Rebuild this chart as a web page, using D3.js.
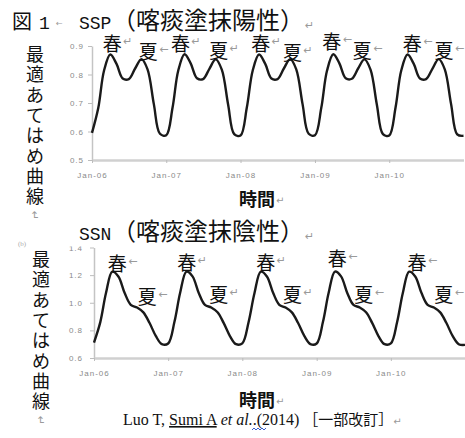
<!DOCTYPE html>
<html>
<head>
<meta charset="utf-8">
<script src="https://cdn.jsdelivr.net/npm/d3@7/dist/d3.min.js"></script>
<style>
  body { margin: 0; background: #fff; }
  svg { display: block; }
  .tick text { font-family: 'Liberation Sans', Arial, sans-serif; font-size: 8px; letter-spacing: 1px; fill: #8a8a8a; }
  .tick line { stroke: #bdbdbd; }
  .cjk { font-family: 'Noto Sans CJK JP', sans-serif; fill: #111; }
  .ret { font-family: 'DejaVu Sans', sans-serif; fill: #9a9a9a; }
</style>
</head>
<body>
<svg width="465" height="438"></svg>
<script>
// monthly fitted values, Jan-06 .. Jan-11
const yearTicks = ['2006-01-01', '2007-01-01', '2008-01-01', '2009-01-01', '2010-01-01'];

const sspFit = [
  0.595, 0.683, 0.813, 0.870, 0.838, 0.786, 0.784, 0.821, 0.854, 0.818, 0.696, 0.592,
  0.587, 0.684, 0.814, 0.871, 0.839, 0.787, 0.784, 0.820, 0.853, 0.817, 0.695, 0.591,
  0.586, 0.684, 0.814, 0.870, 0.838, 0.786, 0.784, 0.821, 0.854, 0.818, 0.696, 0.592,
  0.587, 0.683, 0.813, 0.871, 0.839, 0.787, 0.785, 0.821, 0.853, 0.817, 0.695, 0.591,
  0.586, 0.684, 0.814, 0.870, 0.838, 0.786, 0.784, 0.820, 0.854, 0.818, 0.696, 0.590,
  0.585
];

const ssnFit = [
  0.712, 0.860, 1.070, 1.225, 1.190, 1.070, 0.985, 0.965, 0.930, 0.855, 0.760, 0.700,
  0.705, 0.862, 1.072, 1.226, 1.191, 1.069, 0.984, 0.966, 0.931, 0.854, 0.759, 0.700,
  0.706, 0.861, 1.071, 1.225, 1.190, 1.070, 0.985, 0.965, 0.930, 0.855, 0.760, 0.701,
  0.705, 0.862, 1.072, 1.226, 1.191, 1.069, 0.984, 0.966, 0.931, 0.854, 0.759, 0.700,
  0.706, 0.861, 1.071, 1.225, 1.190, 1.070, 0.985, 0.965, 0.930, 0.855, 0.760, 0.700,
  0.695
];

const sspTicks = [0.5, 0.6, 0.7, 0.8, 0.9];
const ssnTicks = [0.6, 0.8, 1.0, 1.2, 1.4];

// season labels: [text, date, value, return mark]
const sspLabels = [
  ['春', '2006-04-10', 0.884, '↵'], ['夏', '2006-10-04', 0.853, '←'],
  ['春', '2007-03-12', 0.884, '↵'], ['夏', '2007-09-16', 0.858, '↵'],
  ['春', '2008-04-10', 0.884, '↵'], ['夏', '2008-09-12', 0.851, '↵'],
  ['春', '2009-03-24', 0.890, '←'], ['夏', '2009-08-21', 0.858, '←'],
  ['春', '2010-04-24', 0.884, '←'], ['夏', '2010-09-27', 0.858, '←']
];
const ssnLabels = [
  ['春', '2006-04-25', 1.230, '←'], ['夏', '2006-09-20', 0.990, '←'],
  ['春', '2007-04-03', 1.235, '↵'], ['夏', '2007-09-07', 1.005, '↵'],
  ['春', '2008-04-25', 1.235, '↵'], ['夏', '2008-09-04', 1.005, '↵'],
  ['春', '2009-04-12', 1.266, '←'], ['夏', '2009-08-21', 1.005, '←'],
  ['春', '2010-05-10', 1.235, '←'], ['夏', '2010-09-18', 1.005, '←']
];

const vLabel = '最適あてはめ曲線';

const svg = d3.select('svg');
const parse = d3.timeParse('%Y-%m-%d');
const months = d3.timeMonth.range(new Date(2006, 0, 1), new Date(2011, 0, 2));

function panel(values, ticks, labels, opt) {
  const x = d3.scaleTime()
    .domain([new Date(2006, 0, 1), new Date(2011, 0, 1)])
    .range(opt.xr);
  const y = d3.scaleLinear()
    .domain(d3.extent(ticks))
    .range(opt.yr);

  const g = svg.append('g');
  if (opt.clipTop) {
    svg.append('clipPath').attr('id', opt.id)
      .append('rect').attr('x', 0).attr('y', opt.clipTop).attr('width', 465).attr('height', 438 - opt.clipTop);
    g.attr('clip-path', `url(#${opt.id})`);
  }

  const ya = g.append('g')
    .attr('transform', `translate(${opt.xr[0]},0)`)
    .call(d3.axisLeft(y).tickValues(ticks).tickFormat(d3.format('.1f')).tickSize(4).tickSizeOuter(0).tickPadding(opt.yPad));
  ya.select('.domain').attr('stroke', '#c4c4c4').attr('stroke-width', 1.5);

  const xa = g.append('g')
    .attr('transform', `translate(0,${opt.yr[0]})`)
    .call(d3.axisBottom(x).tickValues(yearTicks.map(parse)).tickFormat(d3.timeFormat('%b-%y')).tickSize(3).tickSizeOuter(0).tickPadding(9));
  xa.select('.domain').attr('stroke', '#d0d0d0').attr('stroke-width', 2.5);

  const line = d3.line()
    .x((d, i) => x(months[i]))
    .y(d => y(d))
    .curve(d3.curveCatmullRom);

  g.append('path')
    .datum(values)
    .attr('fill', 'none')
    .attr('stroke', '#1a1a1a')
    .attr('stroke-width', 2.4)
    .attr('d', line);

  const lab = svg.append('g').selectAll('g')
    .data(labels)
    .join('g')
    .attr('transform', d => `translate(${x(parse(d[1]))},${y(d[2])})`);
  lab.append('text').attr('class', 'cjk')
    .attr('text-anchor', 'middle')
    .attr('font-size', 19)
    .text(d => d[0]);
  lab.append('text').attr('class', 'ret')
    .attr('x', 11).attr('y', -6)
    .attr('font-size', 11)
    .text(d => d[3]);
}

panel(sspFit, sspTicks, sspLabels, { xr: [92, 463.5], yr: [160, 46], yPad: 4 });
panel(ssnFit, ssnTicks, ssnLabels, { xr: [94, 465], yr: [358, 247.5], yPad: 7, clipTop: 246.5, id: 'clipB' });

// titles
function title(y, code, body) {
  svg.append('text').attr('x', 79).attr('y', y)
    .attr('font-family', "'Liberation Mono', monospace").attr('font-size', 18).attr('fill', '#111')
    .text(code);
  svg.append('text').attr('class', 'cjk').attr('x', 112).attr('y', y).attr('font-size', 24)
    .text(body);
  svg.append('text').attr('class', 'ret').attr('x', 305).attr('y', y).attr('font-size', 11).text('↵');
}
svg.append('text').attr('class', 'cjk').attr('x', 12).attr('y', 29).attr('font-size', 20).text('図');
svg.append('text').attr('x', 39).attr('y', 29)
  .attr('font-family', "'Liberation Mono', monospace").attr('font-size', 18).attr('fill', '#111').text('1');
svg.append('text').attr('class', 'ret').attr('x', 56).attr('y', 26).attr('font-size', 8).text('←');
title(29, 'SSP', '（喀痰塗抹陽性）');
title(240, 'SSN', '（喀痰塗抹陰性）');
svg.append('text').attr('x', 18).attr('y', 246).attr('font-family', "'Liberation Serif', serif")
  .attr('font-size', 7).attr('fill', '#aaa').text('(b)');

// vertical y labels
function vertical(cx, y0) {
  const t = svg.append('text').attr('class', 'cjk').attr('font-size', 18).attr('text-anchor', 'middle');
  Array.from(vLabel).forEach((c, i) => {
    t.append('tspan').attr('x', cx).attr('y', y0 + i * 20.3).text(c);
  });
  svg.append('text').attr('class', 'ret').attr('font-size', 11)
    .attr('transform', `translate(${cx - 4},${y0 + 7 * 20.3 + 8}) rotate(90)`)
    .text('↵');
}
vertical(35, 61);
vertical(41, 266);

// x titles
function xTitle(y) {
  svg.append('text').attr('class', 'cjk').attr('x', 239).attr('y', y)
    .attr('font-size', 18).attr('font-weight', 'bold').text('時間');
  svg.append('text').attr('class', 'ret').attr('x', 276).attr('y', y - 2).attr('font-size', 10).text('↵');
}
xTitle(206);
xTitle(407);

// citation
const cite = svg.append('text').attr('x', 123).attr('y', 425)
  .attr('font-family', "'Liberation Serif', 'Times New Roman', serif").attr('font-size', 16).attr('fill', '#111');
cite.append('tspan').text('Luo T, ');
cite.append('tspan').attr('text-decoration', 'underline').text('Sumi A');
cite.append('tspan').text(' ');
cite.append('tspan').attr('font-style', 'italic').text('et al.');
cite.append('tspan').text('.(2014) ');
cite.append('tspan').attr('font-family', "'Noto Sans CJK JP', sans-serif").attr('font-size', 15).text('［一部改訂］');
cite.append('tspan').attr('font-family', "'DejaVu Sans', sans-serif").attr('font-size', 10).attr('fill', '#9a9a9a').text('↵');

svg.append('path')
  .attr('d', 'M252,430 l2,-2 l2,2 l2,-2 l2,2 l2,-2 l2,2 l2,-2')
  .attr('fill', 'none').attr('stroke', '#3a5fcd').attr('stroke-width', 1);
</script>
</body>
</html>
